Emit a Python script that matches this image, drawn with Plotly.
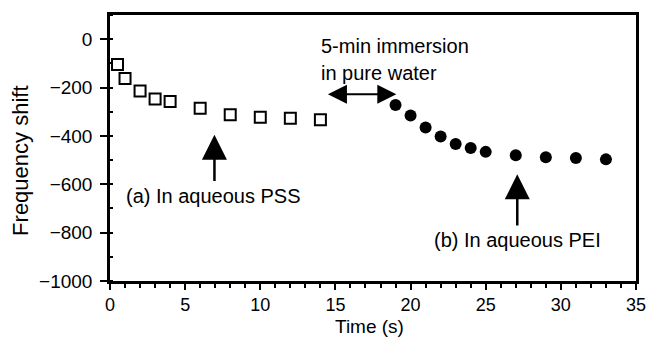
import plotly.graph_objects as go

pss_t = [0.5, 1, 2, 3, 4, 6, 8, 10, 12, 14]
pss_f = [-105, -163, -214, -247, -258, -286, -313, -323, -327, -333]
pei_t = [19, 20, 21, 22, 23, 24, 25, 27, 29, 31, 33]
pei_f = [-272, -316, -365, -402, -433, -450, -466, -480, -488, -491, -497]

x_ticks = [0, 5, 10, 15, 20, 25, 30, 35]
y_ticks = [0, -200, -400, -600, -800, -1000]
y_labels = ["0", "\u2212200", "\u2212400", "\u2212600", "\u2212800", "\u22121000"]

font = "Liberation Sans, Arial, sans-serif"
ann_font = dict(family=font, size=20, color="black")

fig = go.Figure()
fig.add_trace(go.Scatter(x=pss_t, y=pss_f, mode="markers",
                         marker=dict(symbol="square-open", size=11, color="black",
                                     line=dict(width=2, color="black")),
                         showlegend=False))
fig.add_trace(go.Scatter(x=pei_t, y=pei_f, mode="markers",
                         marker=dict(symbol="circle", size=12, color="black"),
                         showlegend=False))

# double arrow for immersion
fig.add_annotation(x=19.05, y=-228, ax=14.4, ay=-228, xref="x", yref="y", axref="x", ayref="y",
                   text="", showarrow=True, arrowhead=2, arrowside="end+start",
                   arrowsize=1.9, arrowwidth=2, arrowcolor="black")
fig.add_annotation(x=13.95, y=-29, xref="x", yref="y", text="5-min immersion",
                   showarrow=False, xanchor="left", yanchor="middle", borderpad=0,
                   font=ann_font)
fig.add_annotation(x=13.95, y=-139, xref="x", yref="y", text="in pure water",
                   showarrow=False, xanchor="left", yanchor="middle", borderpad=0,
                   font=ann_font)

# arrow (a)
fig.add_annotation(x=6.95, y=-395, ax=6.95, ay=-593, xref="x", yref="y", axref="x", ayref="y",
                   text="", showarrow=True, arrowhead=2, arrowsize=2.0, arrowwidth=2.5,
                   arrowcolor="black")
fig.add_annotation(x=0.9, y=-648, xref="x", yref="y", text="(a) In aqueous PSS",
                   showarrow=False, xanchor="left", yanchor="middle", font=ann_font)

# arrow (b)
fig.add_annotation(x=27.1, y=-559, ax=27.1, ay=-777, xref="x", yref="y", axref="x", ayref="y",
                   text="", showarrow=True, arrowhead=2, arrowsize=2.0, arrowwidth=2.5,
                   arrowcolor="black")
fig.add_annotation(x=27.1, y=-832, xref="x", yref="y", text="(b) In aqueous PEI",
                   showarrow=False, xanchor="center", yanchor="middle", font=ann_font)

# axis titles
fig.add_annotation(x=-0.170, y=0.45, xref="paper", yref="paper", text="Frequency shift",
                   textangle=-90, showarrow=False, xanchor="center", yanchor="middle",
                   font=dict(family=font, size=22, color="black"))
fig.add_annotation(x=0.4935, y=-0.172, xref="paper", yref="paper", text="Time (s)",
                   showarrow=False, xanchor="center", yanchor="middle", borderpad=0,
                   font=dict(family=font, size=19, color="black"))

fig.update_layout(
    width=658, height=340,
    margin=dict(l=110, r=12, t=13, b=59),
    plot_bgcolor="white", paper_bgcolor="white",
    font=dict(family=font, size=18, color="black"),
)
fig.update_xaxes(range=[0, 35], tickvals=x_ticks, ticks="outside", ticklen=6, tickwidth=2,
                 tickcolor="black", ticklabelstandoff=0,
                 showline=True, linewidth=2.5, linecolor="black", mirror=True,
                 showgrid=False, zeroline=False,
                 minor=dict(dtick=1, ticks="outside", ticklen=4, tickwidth=1.5, tickcolor="black"),
                 tickfont=dict(size=18))
fig.update_yaxes(range=[-1000, 100], tickvals=y_ticks, ticktext=y_labels, ticks="outside",
                 ticklen=7, tickwidth=2, tickcolor="black", ticklabelstandoff=4,
                 showline=True, linewidth=2.5, linecolor="black", mirror=True,
                 showgrid=False, zeroline=False,
                 minor=dict(dtick=100, ticks="inside", ticklen=3, tickwidth=1.5, tickcolor="black"),
                 tickfont=dict(size=19))

fig.write_html("out.html")
